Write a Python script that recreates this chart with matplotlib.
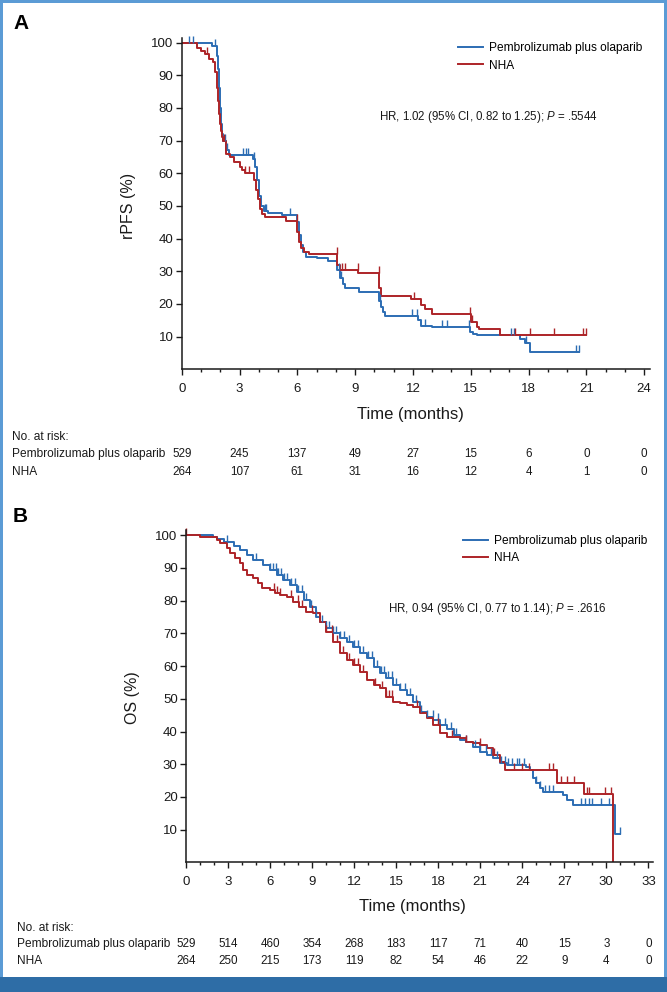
import numpy as np
import matplotlib.pyplot as plt
from matplotlib import transforms
from matplotlib.patches import Rectangle

W, H = 667, 992

# panel A: rPFS (step points, % event-free)
pfs_t_pem = [0, 1.55, 1.82, 1.9, 1.95, 2.0, 2.05, 2.1, 2.15, 2.3, 2.45, 3.7, 3.8, 3.9, 4.0, 4.1, 4.25, 4.5, 5.2,
             6.0, 6.1, 6.2, 6.3, 6.45, 7.0, 7.6, 8.05, 8.2, 8.35, 8.5, 9.2, 10.25, 10.35, 10.45, 10.55, 12.25, 12.4,
             13.0, 14.95, 15.1, 15.3, 17.55, 17.8, 18.1, 20.6]
pfs_s_pem = [100, 99, 96, 92, 86, 80, 75, 72, 70, 67, 65.5, 64.5, 62, 58, 53, 50, 48.5, 47.8, 47.3,
             45, 41, 38, 36, 34.5, 34.0, 33.2, 30.5, 28, 26, 24.8, 23.8, 21, 19, 17.5, 16.3, 15.1, 13.4,
             13.0, 11.5, 10.8, 10.5, 9.2, 8.0, 5.2, 5.2]
pfs_t_nha = [0, 0.8, 1.0, 1.2, 1.4, 1.6, 1.75, 1.85, 1.9, 1.95, 2.0, 2.05, 2.1, 2.15, 2.3, 2.5, 2.7, 3.0, 3.15, 3.3,
             3.75, 3.85, 3.95, 4.05, 4.15, 4.3, 5.4, 6.0, 6.1, 6.2, 6.35, 6.6, 8.05, 8.2, 9.17, 10.25, 10.35, 11.9,
             12.4, 12.6, 13.0, 15.0, 15.3, 15.45, 16.5, 21.0]
pfs_s_nha = [100, 98.5, 97.5, 96.5, 95, 94, 91, 86, 82, 78, 75, 73, 71, 70, 66, 65, 63.5, 62, 61, 60,
             58, 55, 52, 49, 47.5, 46.5, 45.5, 42, 39, 37, 36, 35.3, 32, 30.4, 29.4, 25, 22.4, 21.4,
             19.7, 18.4, 16.8, 14.6, 13.0, 12.3, 10.5, 10.5]
pfs_cens_pem = [0.4, 0.6, 1.75, 2.25, 2.35, 3.2, 3.35, 3.45, 3.75, 4.3, 4.4, 5.6, 8.15, 8.25, 10.3, 11.95, 12.2,
                12.65, 13.5, 13.75, 14.9, 17.1, 17.25, 17.85, 20.45, 20.6]
pfs_cens_nha = [1.3, 2.2, 3.3, 3.5, 5.98, 8.04, 8.3, 8.45, 9.16, 10.24, 12.05, 14.94, 15.05, 17.3, 18.1, 19.3,
                20.8, 21.0]

# panel B: OS
os_t_pem = [0, 1.95, 2.2, 2.7, 3.4, 3.85, 4.33, 4.8, 5.5, 6.0, 6.5, 6.95, 7.4, 7.9, 8.4, 8.85, 9.3, 9.55, 10.0, 10.5,
            11.0, 11.5, 11.95, 12.4, 12.9, 13.4, 13.85, 14.3, 14.8, 15.3, 15.75, 16.2, 16.7, 17.2, 17.65, 18.1,
            18.6, 19.1, 19.55, 20.0, 20.5, 21.0, 21.45, 21.9, 22.4, 22.9, 24.3, 24.55, 24.8, 25.0, 25.3, 25.5,
            26.9, 27.2, 27.65, 30.6, 31.0]
os_s_pem = [100, 99.6, 99.0, 97.8, 96.8, 95.5, 94.0, 92.4, 90.9, 89.4, 87.9, 86.3, 84.8, 82.8, 80.2, 78.2, 75.1,
            73.6, 71.5, 70.0, 68.5, 67.4, 65.9, 63.9, 62.4, 59.8, 57.8, 56.3, 54.2, 52.7, 51.2, 49.1, 46.1, 44.5,
            43.5, 42.0, 40.8, 38.9, 37.4, 36.9, 35.3, 33.8, 32.8, 31.8, 30.3, 29.7, 29.2, 28.2, 25.7, 24.1, 22.6,
            21.6, 20.6, 19.1, 17.5, 8.8, 8.8]
os_t_nha = [0, 1.0, 2.2, 2.4, 2.9, 3.14, 3.5, 3.85, 4.1, 4.33, 4.8, 5.16, 5.4, 6.0, 6.35, 6.7, 7.2, 7.66, 8.1, 8.6,
            9.1, 9.55, 10.0, 10.5, 11.0, 11.5, 11.95, 12.4, 12.9, 13.4, 13.85, 14.3, 14.8, 15.3, 15.75, 16.2,
            16.7, 17.2, 17.65, 18.1, 18.6, 19.55, 20.0, 20.5, 21.0, 21.45, 21.9, 22.4, 22.8, 26.5, 28.4, 30.5]
os_s_nha = [100, 99.4, 98.5, 97.5, 96.0, 94.5, 93.0, 91.4, 89.4, 87.9, 86.8, 85.3, 83.8, 83.3, 82.3, 81.7, 81.2,
            79.7, 78.2, 76.6, 76.1, 73.6, 70.5, 67.5, 63.9, 61.9, 60.3, 58.3, 55.8, 54.2, 53.2, 50.6, 49.1, 48.6,
            48.1, 47.6, 45.6, 44.0, 42.0, 39.5, 38.4, 37.9, 36.9, 36.4, 35.9, 34.9, 32.8, 30.8, 28.2, 24.1,
            20.8, 0]
os_cens_pem = [2.9, 5.0, 6.0, 6.2, 6.4, 6.5, 6.6, 6.8, 7.0, 7.2, 7.5, 7.8, 8.0, 8.3, 8.6, 8.9, 9.3, 9.7, 10.0,
               10.2, 10.5, 10.7, 11.0, 11.3, 11.6, 12.0, 12.3, 12.6, 13.0, 13.3, 13.6, 13.9, 14.1, 14.4, 14.7,
               15.0, 15.3, 15.6, 16.0, 16.4, 16.8, 17.2, 17.6, 18.0, 18.5, 18.9, 19.3, 20.0, 20.6, 21.0, 21.4,
               21.8, 22.2, 22.5, 22.8, 23.0, 23.3, 23.6, 23.8, 24.1, 25.0, 25.3, 25.6, 25.9, 26.2, 28.2, 28.5,
               28.8, 29.0, 29.6, 30.2, 31.0]
os_cens_nha = [0, 6.3, 6.5, 6.7, 7.5, 8.0, 8.3, 9.0, 10.0, 10.4, 10.8, 11.2, 11.6, 12.0, 12.3, 12.6, 13.5, 14.0,
               14.3, 14.5, 14.7, 16.5, 18.0, 19.0, 20.0, 21.0, 22.0, 23.4, 24.0, 24.5, 25.9, 26.2, 26.8, 27.2,
               27.7, 28.6, 28.8, 29.9, 30.3]

# numbers at risk
risk_pfs_pem = [529, 245, 137, 49, 27, 15, 6, 0, 0]
risk_pfs_nha = [264, 107, 61, 31, 16, 12, 4, 1, 0]
risk_os_pem = [529, 514, 460, 354, 268, 183, 117, 71, 40, 15, 3, 0]
risk_os_nha = [264, 250, 215, 173, 119, 82, 54, 46, 22, 9, 4, 0]

arm_names = ['Pembrolizumab plus olaparib', 'NHA']

BLUE = '#2c6db3'
RED = '#ad2428'
TXT = '#1a1a1a'
NARROW = ['Liberation Sans Narrow', 'Liberation Sans', 'DejaVu Sans']
FS = 8.6

plt.rcParams['font.family'] = ['Liberation Sans', 'DejaVu Sans']
plt.rcParams['mathtext.fontset'] = 'custom'
plt.rcParams['mathtext.it'] = 'Liberation Sans:italic'
plt.rcParams['mathtext.rm'] = 'Liberation Sans'


def fx(x):
    return x / W


def fy(y):
    return 1 - y / H


def step_value(t, s, c):
    i = np.searchsorted(t, c, side='right') - 1
    return np.asarray(s)[i]


def draw_panel(fig, box, xmax, xmajor, curves, cens, ylabel, ylab_xy, hr_text, hr_xy, leg_xy,
               risk, risk_rows_y, risk_label_x, tlabel_xy, letter, letter_y):
    # box = (x0 px, y of x-axis px, x px per unit, y px per unit)
    x0, yb, kx, ky = box
    ymax = 101.5
    ax = fig.add_axes([fx(x0), fy(yb), xmax * kx / W, ymax * ky / H])
    handles = []
    for (t, s), (ct, col), name in zip(curves, cens, arm_names):
        h, = ax.step(t, s, where='post', color=col, lw=1.4, label=name)
        handles.append(h)
    for (t, s), (ct, col) in zip(curves, cens):
        cy = step_value(np.asarray(t), s, np.asarray(ct))
        ax.plot(ct, cy, linestyle='none', marker=2, ms=5, mew=1.0, color=col, clip_on=False)

    ax.set_xlim(0, xmax)
    ax.set_ylim(0, ymax)
    ax.set_xticks(np.arange(0, xmax, xmajor))
    ax.set_xticks(np.arange(0, xmax, 1), minor=True)
    ax.set_yticks(np.arange(10, 101, 10))
    for sp in ['top', 'right']:
        ax.spines[sp].set_visible(False)
    for sp in ['left', 'bottom']:
        ax.spines[sp].set_linewidth(1.1)
        ax.spines[sp].set_color(TXT)
    ax.tick_params(axis='both', which='major', length=4, width=1, colors=TXT, labelsize=9.5)
    ax.tick_params(axis='x', which='major', pad=6)
    ax.tick_params(axis='y', which='major', pad=2)
    ax.tick_params(axis='x', which='minor', length=2.5, width=1, colors=TXT)

    ax.legend(handles=handles, loc='upper left', bbox_to_anchor=(fx(leg_xy[0]), fy(leg_xy[1])),
              bbox_transform=fig.transFigure, frameon=False, borderpad=0, borderaxespad=0,
              handlelength=2.1, handletextpad=0.5, labelspacing=0.42, fontsize=FS)

    fig.text(fx(hr_xy[0]), fy(hr_xy[1]), hr_text, ha='left', va='center', fontsize=8.3, color=TXT)
    fig.text(fx(ylab_xy[0]), fy(ylab_xy[1]), ylabel, rotation=90, ha='center', va='center',
             fontsize=11.5, family=NARROW, color=TXT)
    fig.text(fx(tlabel_xy[0]), fy(tlabel_xy[1]), 'Time (months)', ha='center', va='center',
             fontsize=12, family=NARROW, color=TXT)
    fig.text(fx(13), fy(letter_y), letter, ha='left', va='center', fontsize=15, fontweight='bold', color='black')

    # number at risk table
    tr = transforms.blended_transform_factory(ax.transData, fig.transFigure)
    fig.text(fx(risk_label_x), fy(risk_rows_y[0]), 'No. at risk:', ha='left', va='center', fontsize=FS, color=TXT)
    xs = np.arange(0, xmax, xmajor)
    for row, name, y in zip(risk, arm_names, risk_rows_y[1:]):
        fig.text(fx(risk_label_x), fy(y), name, ha='left', va='center', fontsize=FS, color=TXT)
        for xv, n in zip(xs, row):
            ax.text(xv, fy(y), str(n), transform=tr, ha='center', va='center', fontsize=8.4, color=TXT)
    return ax


fig = plt.figure(figsize=(W / 100, H / 100), dpi=100)

draw_panel(fig, (181.7, 369.3, 19.27, 3.267), 24.3, 3,
           [(pfs_t_pem, pfs_s_pem), (pfs_t_nha, pfs_s_nha)],
           [(pfs_cens_pem, BLUE), (pfs_cens_nha, RED)],
           'rPFS (%)', (128, 206),
           'HR, 1.02 (95% CI, 0.82 to 1.25); $P$ = .5544', (379, 116.7), (457.7, 42.5),
           [risk_pfs_pem, risk_pfs_nha], (436.7, 454, 471.7), 11.7, (410.7, 415), 'A', 23.7)

draw_panel(fig, (186, 862.3, 14.01, 3.27), 33.3, 3,
           [(os_t_pem, os_s_pem), (os_t_nha, os_s_nha)],
           [(os_cens_pem, BLUE), (os_cens_nha, RED)],
           'OS (%)', (133, 697.5),
           'HR, 0.94 (95% CI, 0.77 to 1.14); $P$ = .2616', (387.7, 609.3), (462.7, 535.2),
           [risk_os_pem, risk_os_nha], (928, 944, 961), 16.7, (412.7, 906.7), 'B', 516)

# page frame and footer bar
LIGHT = '#5b9bd5'
for x, y, w, h in [(0, 0, 2.5, H), (0, H - 2.5, W, 2.5), (W - 3, 0, 3, H)]:
    fig.add_artist(Rectangle((fx(x), y / H), w / W, h / H, transform=fig.transFigure,
                             color=LIGHT, lw=0))
fig.add_artist(Rectangle((0, 0), 1, 15 / H, transform=fig.transFigure, color='#2e6da6', lw=0))

fig.savefig('out.png', dpi=100)
